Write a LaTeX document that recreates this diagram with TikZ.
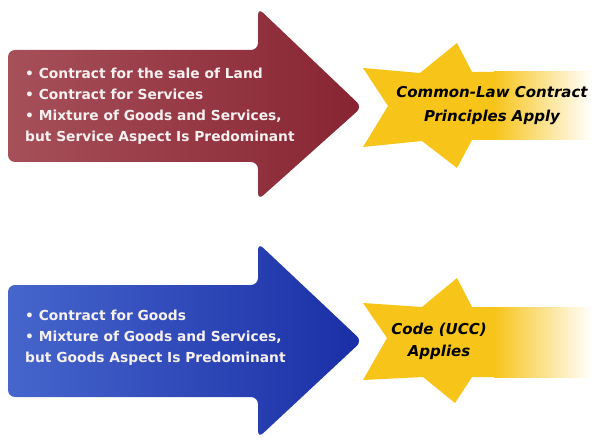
\documentclass[tikz,border=0pt]{standalone}
\usepackage{fontspec}
\setmainfont{DejaVu Sans}
\usepackage{tikz}
\usetikzlibrary{positioning}
\definecolor{wineleft}{RGB}{166,80,90}
\definecolor{wineright}{RGB}{136,36,50}
\definecolor{navyleft}{RGB}{70,102,204}
\definecolor{navyright}{RGB}{26,46,166}
\definecolor{stargold}{RGB}{247,196,26}
\definecolor{listwhite}{RGB}{246,240,240}
\tikzset{
	redarrow/.style={left color=wineleft, right color=wineright, draw=none, rounded corners=7pt},
	bluearrow/.style={left color=navyleft, right color=navyright, draw=none, rounded corners=7pt},
	yellowstar/.style={fill=stargold, draw=none},
	fadeband/.style={left color=stargold, right color=white, draw=none},
	listtext/.style={text=listwhite, font=\bfseries\fontsize{13.8}{21}\selectfont, align=left, inner sep=0pt, anchor=west},
	ruletext/.style={text=black, font=\bfseries\itshape\fontsize{15}{24}\selectfont, align=center, inner sep=0pt},
}

\begin{document}
\begin{tikzpicture}[x=1pt, y=-1pt]
		\useasboundingbox (0,0) rectangle (592,441);
		% Common law arrow
		\draw [redarrow] (8,50)--(258,50)--(258,8)--(362,107)--(258,200)--(258,162)--(8,162)--cycle;
		\node [listtext] (landlist) at (25,106) {\textbullet\ Contract for the sale of Land\\\textbullet\ Contract for Services\\\textbullet\ Mixture of Goods and Services,\\but Service Aspect Is Predominant};
		% Common law star
		\fill [yellowstar] (363,68)--(420,73)--(457,43)--(472,72)--(495,72)--(495,140)--(472,140)--(457,168)--(422,141)--(363,147)--(388,106)--cycle;
		\fill [fadeband] (494,72) rectangle (592,140);
		\node [ruletext] (commonlaw) at (492,106) {Common-Law Contract\\Principles Apply};
		% UCC arrow
		\draw [bluearrow] (8,285)--(258,285)--(258,243)--(362,341)--(258,438)--(258,397)--(8,397)--cycle;
		\node [listtext] (goodslist) at (25,338) {\textbullet\ Contract for Goods\\\textbullet\ Mixture of Goods and Services,\\but Goods Aspect Is Predominant};
		% UCC star
		\fill [yellowstar] (363,303)--(422,307)--(457,278)--(472,307)--(495,307)--(495,377)--(472,377)--(455,403)--(423,377)--(363,380)--(387,338)--cycle;
		\fill [fadeband] (494,307) rectangle (592,377);
		\node [ruletext, font=\bfseries\itshape\fontsize{15}{22}\selectfont] (ucc) at (439,341) {Code (UCC)\\Applies};
\end{tikzpicture}
\end{document}
